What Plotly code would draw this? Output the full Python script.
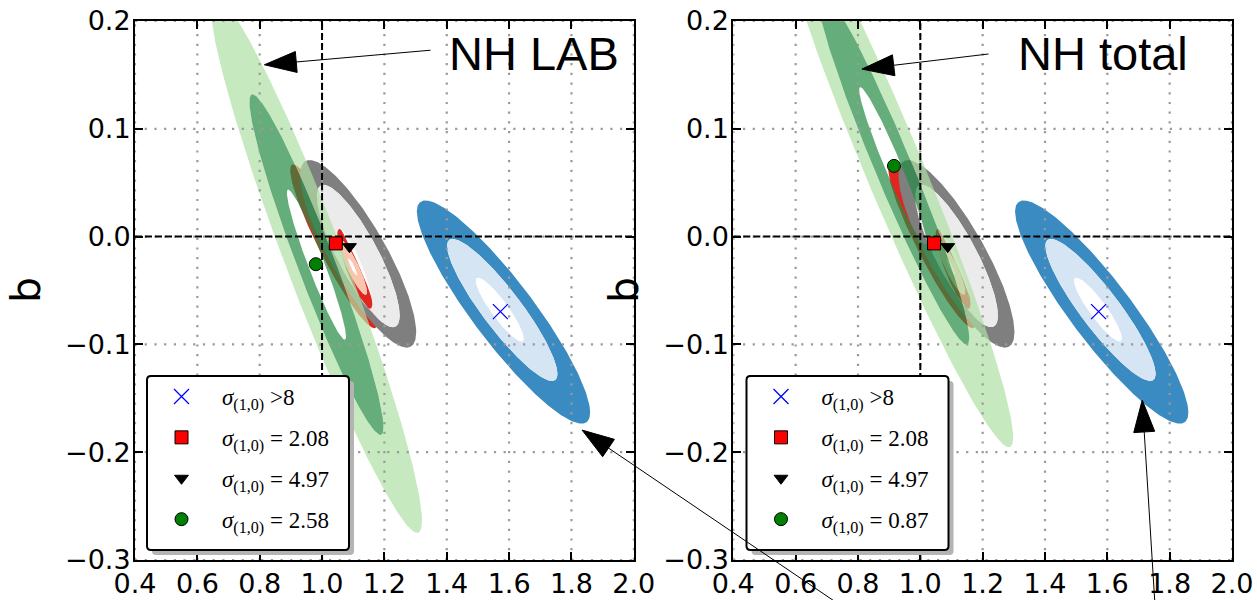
import numpy as np
import plotly.graph_objects as go

# ---------------- data ----------------
x_ticks = [0.4, 0.6, 0.8, 1.0, 1.2, 1.4, 1.6, 1.8, 2.0]
y_ticks = [-0.3, -0.2, -0.1, 0.0, 0.1, 0.2]
x_range = [0.4, 2.0]
y_range = [-0.3, 0.2]
ref_x = 1.0
ref_y = 0.0

panel_titles = ["NH LAB", "NH total"]

# contours shared by both panels: level 3 = outermost, level 1 = innermost (open) region
# (centre, x half-extent, y half-extent, correlation)
shared_group = ["blue", "blue", "blue", "red", "red", "red", "gray", "gray", "gray"]
shared_level = [3, 2, 1, 3, 2, 1, 3, 2, 1]
shared_cx = [1.582, 1.578, 1.570, 1.0375, 1.098, 1.098, 1.116, 1.116, 1.105]
shared_cy = [-0.070, -0.068, -0.0677, -0.009, -0.028, -0.028, -0.016, -0.018, -0.030]
shared_sx = [0.278, 0.177, 0.077, 0.140, 0.046, 0.014, 0.186, 0.133, 0.056]
shared_sy = [0.1035, 0.0659, 0.0297, 0.076, 0.026, 0.008, 0.087, 0.066, 0.037]
shared_rho = [-0.90, -0.90, -0.90, -0.93, -0.90, -0.90, -0.835, -0.835, -0.87]

# green contours, one set per panel (relative levels of the same ellipse)
green_levels = [1.0, 0.635, 0.28]
green_cx = [0.982, 0.912]
green_cy = [-0.026, 0.0656]
green_sx = [0.3386, 0.386]
green_sy = [0.2488, 0.261]
green_rho = [-0.955, -0.965]

# best-fit points
point_x = [1.572, 1.044, 1.088]
point_y = [-0.0696, -0.0063, -0.0093]
point_sigma = [">8", "2.08", "4.97"]
green_point_x = [0.980, 0.9155]
green_point_y = [-0.0256, 0.0656]
green_sigma = ["2.58", "0.87"]

# annotation arrows (tip, tail) in the data coordinates of their panel
arrow_panel = [0, 0, 1, 1]
arrow_tip_x = [0.815, 1.834, 0.8126, 1.712]
arrow_tip_y = [0.1594, -0.1795, 0.1554, -0.1516]
arrow_tail_x = [1.348, 2.663, 1.2189, 1.753]
arrow_tail_y = [0.1729, -0.342, 0.1694, -0.342]

# ---------------- styling ----------------
W, H = 1257, 600
ML, MR, MT, MB = 135, 25, 21, 40
PW, PH = W - ML - MR, H - MT - MB
domains = [[0.0, 0.4547], [0.5454, 1.0]]

band_colors = {  # [band between level 3 and 2, band between level 2 and 1]
    "blue": ["#3a8bc2", "#d5e5f4"],
    "red": ["#e0261f", "#fbc4ae"],
    "gray": ["#7f7f7f", "#ebebeb"],
    "green": ["rgba(175,223,165,0.7)", "rgba(35,139,69,0.7)"],
}

T = np.linspace(0, 2 * np.pi, 361)


def ellipse(cx, cy, sx, sy, rho):
    s = np.sqrt(1 - rho ** 2)
    x = cx + sx * np.cos(T)
    y = cy + sy * (rho * np.cos(T) - s * np.sin(T))
    return x, y


def band_trace(outer, inner, color, xa, ya):
    xo, yo = ellipse(*outer)
    xi, yi = ellipse(*inner)
    bx = list(xo) + [None] + list(xi[::-1])
    by = list(yo) + [None] + list(yi[::-1])
    return go.Scatter(x=bx, y=by, mode="lines", fill="toself", fillcolor=color,
                      line=dict(width=0), hoverinfo="skip", showlegend=False,
                      xaxis=xa, yaxis=ya)


fig = go.Figure()

for p in range(2):
    xa, ya = ("x", "y") if p == 0 else ("x2", "y2")
    for grp in ["blue", "red", "gray"]:
        cont = {}
        for i, g in enumerate(shared_group):
            if g == grp:
                cont[shared_level[i]] = (shared_cx[i], shared_cy[i], shared_sx[i],
                                         shared_sy[i], shared_rho[i])
        fig.add_trace(band_trace(cont[3], cont[2], band_colors[grp][0], xa, ya))
        fig.add_trace(band_trace(cont[2], cont[1], band_colors[grp][1], xa, ya))
    gc = [(green_cx[p], green_cy[p], k * green_sx[p], k * green_sy[p], green_rho[p])
          for k in green_levels]
    fig.add_trace(band_trace(gc[0], gc[1], band_colors["green"][0], xa, ya))
    fig.add_trace(band_trace(gc[1], gc[2], band_colors["green"][1], xa, ya))

    # dotted grid lines (drawn above the contours)
    gx, gy = [], []
    for xv in x_ticks:
        gx += [xv, xv, None]
        gy += [y_range[0], y_range[1], None]
    for yv in y_ticks:
        gx += [x_range[0], x_range[1], None]
        gy += [yv, yv, None]
    fig.add_trace(go.Scatter(x=gx, y=gy, mode="lines",
                             line=dict(color="#9a9a9a", width=2.2, dash="2.2px,7.5px"),
                             hoverinfo="skip", showlegend=False, xaxis=xa, yaxis=ya))
    # dashed reference lines
    fig.add_trace(go.Scatter(x=[ref_x, ref_x, None, x_range[0], x_range[1]],
                             y=[y_range[0], y_range[1], None, ref_y, ref_y],
                             mode="lines",
                             line=dict(color="black", width=2, dash="7px,3px"),
                             hoverinfo="skip", showlegend=False, xaxis=xa, yaxis=ya))

    leg = "legend" if p == 0 else "legend2"
    sig = "<i>σ</i><sub>(1,0)</sub>"
    pad = "\u00a0\u00a0"
    marker_styles = [
        dict(symbol="x-thin", size=15, color="blue", line=dict(color="blue", width=1.3)),
        dict(symbol="square", size=13, color="red", line=dict(color="black", width=1)),
        dict(symbol="triangle-down", size=12, color="black", line=dict(color="black", width=1)),
    ]
    for i in range(3):
        if point_sigma[i].startswith(">"):
            label = sig + " >" + point_sigma[i][1:] + pad
        else:
            label = sig + " = " + point_sigma[i] + pad
        fig.add_trace(go.Scatter(x=[point_x[i]], y=[point_y[i]], mode="markers",
                                 marker=marker_styles[i], name=label,
                                 legend=leg, legendgroup=f"p{p}g{i}",
                                 xaxis=xa, yaxis=ya))
    fig.add_trace(go.Scatter(x=[green_point_x[p]], y=[green_point_y[p]], mode="markers",
                             marker=dict(symbol="circle", size=13, color="#008000",
                                         line=dict(color="black", width=1)),
                             name=sig + " = " + green_sigma[p] + pad,
                             legend=leg, legendgroup=f"p{p}g3",
                             xaxis=xa, yaxis=ya))


def data_to_px(p, x, y):
    d0, d1 = domains[p]
    px = ML + (d0 + (x - x_range[0]) / (x_range[1] - x_range[0]) * (d1 - d0)) * PW
    py = MT + (1 - (y - y_range[0]) / (y_range[1] - y_range[0])) * PH
    return px, py


def px_to_paper(px, py):
    return (px - ML) / PW, 1 - (py - MT) / PH


shapes = []

# legend boxes (rounded, with drop shadow)
box_left_px = [147, 746.5]
box_top_px, box_w, box_h, rad = 376, 202, 174, 4


def rounded_rect(x0, y0, w, h, r):
    def P(px, py):
        a, b = px_to_paper(px, py)
        return f"{a:.6f},{b:.6f}"
    x1, y1 = x0 + w, y0 + h
    return (f"M {P(x0 + r, y0)} L {P(x1 - r, y0)} Q {P(x1, y0)} {P(x1, y0 + r)} "
            f"L {P(x1, y1 - r)} Q {P(x1, y1)} {P(x1 - r, y1)} "
            f"L {P(x0 + r, y1)} Q {P(x0, y1)} {P(x0, y1 - r)} "
            f"L {P(x0, y0 + r)} Q {P(x0, y0)} {P(x0 + r, y0)} Z")


for p in range(2):
    shapes.append(dict(type="path", xref="paper", yref="paper",
                       path=rounded_rect(box_left_px[p] + 5, box_top_px + 5, box_w, box_h, rad),
                       fillcolor="#b4b4b4", line=dict(width=0), layer="above"))
    shapes.append(dict(type="path", xref="paper", yref="paper",
                       path=rounded_rect(box_left_px[p], box_top_px, box_w, box_h, rad),
                       fillcolor="white", line=dict(color="black", width=2), layer="above"))

HEAD_L, HEAD_W = 32, 10.5
for k in range(len(arrow_panel)):
    p = arrow_panel[k]
    tx, ty = data_to_px(p, arrow_tip_x[k], arrow_tip_y[k])
    sx_, sy_ = data_to_px(p, arrow_tail_x[k], arrow_tail_y[k])
    ux, uy = tx - sx_, ty - sy_
    n = np.hypot(ux, uy)
    ux, uy = ux / n, uy / n
    bx, by = tx - HEAD_L * ux, ty - HEAD_L * uy
    nx, ny = -uy, ux
    a0 = px_to_paper(sx_, sy_)
    a1 = px_to_paper(bx, by)
    shapes.append(dict(type="line", xref="paper", yref="paper",
                       x0=a0[0], y0=a0[1], x1=a1[0], y1=a1[1],
                       line=dict(color="black", width=1), layer="above"))
    c1 = px_to_paper(tx, ty)
    c2 = px_to_paper(bx + HEAD_W * nx, by + HEAD_W * ny)
    c3 = px_to_paper(bx - HEAD_W * nx, by - HEAD_W * ny)
    path = f"M {c1[0]},{c1[1]} L {c2[0]},{c2[1]} L {c3[0]},{c3[1]} Z"
    shapes.append(dict(type="path", xref="paper", yref="paper", path=path,
                       fillcolor="black", line=dict(color="black", width=1),
                       layer="above"))

axis_common = dict(showline=True, linecolor="black", linewidth=2, mirror="ticks",
                   ticks="inside", ticklen=8, tickwidth=1.5, tickcolor="black",
                   showgrid=False, zeroline=False, automargin=False,
                   tickfont=dict(family="DejaVu Sans", size=27, color="black"))

legend_common = dict(xanchor="left", yanchor="top", bgcolor="rgba(0,0,0,0)",
                     borderwidth=0,
                     font=dict(family="Liberation Serif", size=23, color="black"),
                     itemwidth=71, tracegroupgap=8, traceorder="grouped")

annotations = []
title_left_px = [447, 1016]
for p in range(2):
    ax_, ay_ = px_to_paper(title_left_px[p], 54)
    annotations.append(dict(text=panel_titles[p], xref="paper", yref="paper",
                            x=ax_, y=ay_, xanchor="left", yanchor="middle",
                            showarrow=False,
                            font=dict(family="Liberation Sans", size=47, color="black")))
b_x_px = [26, 624]
for p in range(2):
    bx_, by_ = px_to_paper(b_x_px[p], 290)
    annotations.append(dict(text="b", xref="paper", yref="paper", x=bx_, y=by_,
                            xanchor="center", yanchor="middle", textangle=-90,
                            showarrow=False,
                            font=dict(family="DejaVu Sans", size=41, color="black")))

lg0 = px_to_paper(box_left_px[0] - 6, box_top_px - 1)
lg1 = px_to_paper(box_left_px[1] - 6, box_top_px - 1)

fig.update_layout(
    width=W, height=H,
    margin=dict(l=ML, r=MR, t=MT, b=MB, autoexpand=False),
    plot_bgcolor="white", paper_bgcolor="white",
    xaxis=dict(domain=domains[0], range=x_range, tickvals=x_ticks, tickformat=".1f",
               anchor="y", ticklabelstandoff=-1, **axis_common),
    yaxis=dict(domain=[0, 1], range=y_range, tickvals=y_ticks, tickformat=".1f",
               anchor="x", ticklabelstandoff=-3, **axis_common),
    xaxis2=dict(domain=domains[1], range=x_range, tickvals=x_ticks, tickformat=".1f",
                anchor="y2", ticklabelstandoff=-1, **axis_common),
    yaxis2=dict(domain=[0, 1], range=y_range, tickvals=y_ticks, tickformat=".1f",
                anchor="x2", ticklabelstandoff=-3, **axis_common),
    legend=dict(x=lg0[0], y=lg0[1], **legend_common),
    legend2=dict(x=lg1[0], y=lg1[1], **legend_common),
    shapes=shapes,
    annotations=annotations,
    showlegend=True,
)

fig.write_html("out.html")
